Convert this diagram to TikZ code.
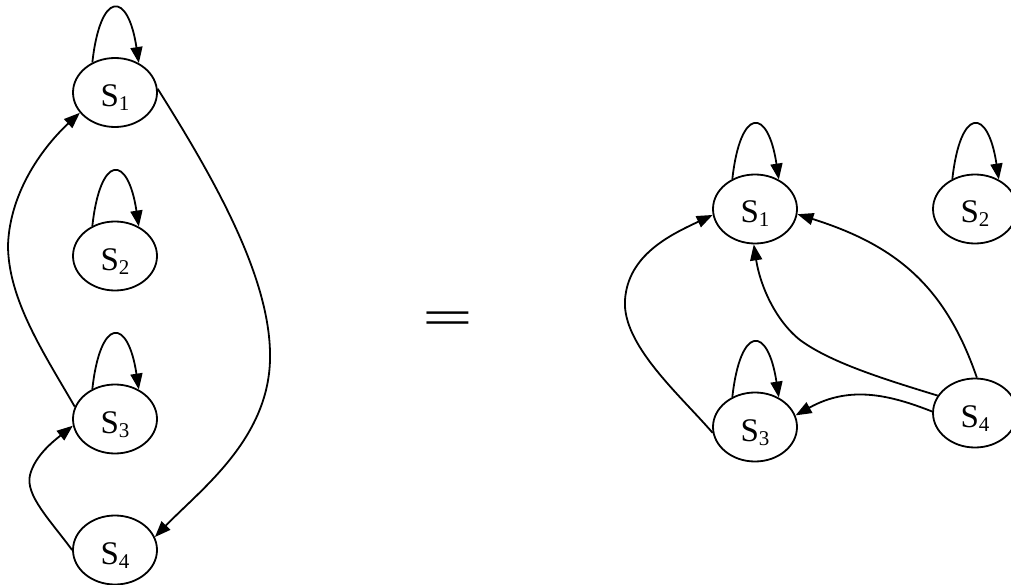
\documentclass[tikz,border=0pt]{standalone}
\usepackage{fontspec}
\setmainfont{Liberation Serif}
\usetikzlibrary{arrows.meta,shapes.geometric}
\newcommand{\stname}[1]{\fontsize{33}{33}\selectfont S\raisebox{-4pt}{\fontsize{21}{21}\selectfont #1}}
\tikzset{
  state/.style={ellipse, draw, line width=1.8pt, minimum width=84pt, minimum height=69pt, inner sep=0pt, text height=28pt, text depth=0pt},
  edge/.style={line width=1.8pt, -{Triangle[length=16pt,width=12pt]}},
}
\begin{document}
\begin{tikzpicture}[x=1pt,y=-1pt]
\useasboundingbox (0,0) rectangle (1011,585);
% left graph
\node[state] (a1) at (115,92.5) {\stname{1}};
\node[state] (a2) at (115,256) {\stname{2}};
\node[state] (a3) at (115,419) {\stname{3}};
\node[state] (a4) at (115,550) {\stname{4}};
\foreach \n in {a1,a2,a3}
  \draw[edge] (\n.127) .. controls +(8,-72) and +(-11,-73) .. (\n.51);
\draw[edge] (a3.163) .. controls (45,355) and (8,300) .. (8,245) .. controls (10,190) and (45,145) .. (a1.210);
\draw[edge] (a1.5) .. controls (215,180) and (272,280) .. (270,360) .. controls (268,440) and (200,490) .. (a4.18);
\draw[edge] (a4.180) .. controls (50,520) and (25,495) .. (30,475) .. controls (35,455) and (55,440) .. (a3.189);
% equals
\node (eq) at (448,323) {\scalebox{1}[0.55]{\fontsize{90}{90}\selectfont =}};
% right graph
\node[state] (b1) at (755,209) {\stname{1}};
\node[state] (b2) at (975,209) {\stname{2}};
\node[state] (b3) at (755,427) {\stname{3}};
\node[state] (b4) at (975,413) {\stname{4}};
\foreach \n in {b1,b2,b3}
  \draw[edge] (\n.127) .. controls +(8,-72) and +(-11,-73) .. (\n.51);
\draw[edge] (b3.188) .. controls (680,395) and (622,345) .. (625,300) .. controls (628,255) and (670,235) .. (b1.188);
\draw[edge] (b4.87) .. controls (945,285) and (895,245) .. (b1.353);
\draw[edge] (b4.155) .. controls (880,378) and (830,362) .. (800,340) .. controls (775,320) and (760,285) .. (b1.268);
\draw[edge] (b4.178) .. controls (890,395) and (850,385) .. (b3.16);
\end{tikzpicture}
\end{document}
